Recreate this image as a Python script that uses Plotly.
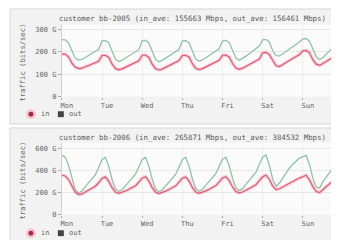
import plotly.graph_objects as go

hours = list(range(0, 170, 2))
day_ticks = [0, 24, 48, 72, 96, 120, 144]
day_labels = ["Mon", "Tue", "Wed", "Thu", "Fri", "Sat", "Sun"]

# panel 1 : customer bb-2005 (G bits/sec), 2-hour samples Mon 00:00 .. next Mon 00:00
in_2005 = [190, 190, 178, 150, 132, 125, 127, 133, 139, 145, 150, 158,
           184, 185, 176, 146, 126, 120, 124, 131, 138, 145, 152, 160,
           185, 186, 175, 145, 125, 119, 123, 131, 139, 145, 153, 161,
           184, 185, 177, 147, 127, 121, 125, 132, 139, 146, 153, 162,
           185, 186, 177, 148, 128, 122, 127, 135, 142, 150, 158, 168,
           196, 198, 188, 160, 138, 134, 142, 152, 162, 172, 180, 188,
           205, 207, 196, 165, 145, 140, 148, 158, 168, 176, 183, 187,
           190]
out_2005 = [255, 254, 240, 205, 172, 163, 167, 175, 184, 193, 202, 212,
            250, 251, 241, 200, 167, 157, 163, 173, 183, 192, 201, 210,
            251, 252, 240, 199, 166, 156, 162, 172, 182, 192, 202, 211,
            250, 251, 241, 201, 168, 158, 164, 174, 184, 194, 204, 214,
            250, 252, 242, 204, 172, 162, 170, 181, 192, 202, 212, 226,
            254, 256, 244, 205, 183, 182, 192, 202, 212, 222, 232, 244,
            258, 260, 248, 210, 178, 165, 175, 190, 205, 220, 235, 245,
            250]

# panel 2 : customer bb-2006
in_2006 = [359, 352, 320, 260, 205, 182, 188, 205, 222, 240, 258, 290,
           330, 344, 305, 245, 205, 193, 201, 215, 230, 246, 263, 295,
           332, 345, 306, 246, 204, 192, 200, 214, 229, 245, 262, 296,
           331, 344, 307, 247, 206, 194, 202, 216, 231, 247, 264, 298,
           333, 346, 310, 252, 210, 198, 206, 222, 238, 254, 272, 310,
           345, 359, 320, 260, 228, 235, 252, 268, 283, 298, 314, 335,
           345, 359, 315, 255, 210, 200, 228, 256, 282, 308, 330, 345,
           359]
out_2006 = [538, 525, 450, 330, 230, 197, 215, 255, 292, 328, 362, 430,
            500, 523, 440, 320, 235, 210, 228, 262, 298, 333, 368, 435,
            500, 522, 441, 322, 233, 208, 226, 260, 296, 331, 366, 433,
            502, 524, 443, 325, 237, 212, 230, 266, 302, 338, 373, 440,
            505, 523, 445, 330, 242, 218, 238, 276, 313, 348, 386, 460,
            525, 544, 450, 320, 258, 285, 335, 385, 425, 460, 488, 515,
            528, 540, 455, 330, 250, 242, 300, 345, 385, 425, 462, 490,
            508]

titles = ["customer bb-2005 (in_ave: 155663 Mbps, out_ave: 156461 Mbps)",
          "customer bb-2006 (in_ave: 265871 Mbps, out_ave: 384532 Mbps)"]
y_ticks = [[0, 100, 200, 300], [0, 200, 400, 600]]
y_ticktext = [["0", "100 G", "200 G", "300 G"], ["0", "200 G", "400 G", "600 G"]]
y_ranges = [[0, 322], [0, 656]]

W, H = 339, 240
MONO = "DejaVu Sans Mono"
IN_COLOR = "#de5870"
IN_GLOW = "rgba(244,170,185,0.5)"
OUT_COLOR = "#8fc2a6"
TXT = "#666"

fig = go.Figure()

panels = [(in_2005, out_2005), (in_2006, out_2006)]
# panel geometry in pixels (top of panel, plot top, plot bottom)
geo = [(0, 17, 90), (121, 137, 210)]
x0_px, x1_px = 53, 335

shapes = []
annotations = []
for i, ((vin, vout), (ptop, ytop, ybot)) in enumerate(zip(panels, geo)):
    xa = "x" if i == 0 else "x2"
    ya = "y" if i == 0 else "y2"
    fig.add_trace(go.Scatter(x=hours, y=vout, mode="lines", xaxis=xa, yaxis=ya,
                             line=dict(color=OUT_COLOR, width=1.3), showlegend=False,
                             hoverinfo="skip"))
    fig.add_trace(go.Scatter(x=hours, y=vin, mode="lines", xaxis=xa, yaxis=ya,
                             line=dict(color=IN_GLOW, width=3.5), showlegend=False,
                             hoverinfo="skip"))
    fig.add_trace(go.Scatter(x=hours, y=vin, mode="lines", xaxis=xa, yaxis=ya,
                             line=dict(color=IN_COLOR, width=1.2), showlegend=False,
                             hoverinfo="skip"))
    # panel frame
    shapes.append(dict(type="rect", xref="paper", yref="paper",
                       x0=1 / W, x1=(W - 1) / W,
                       y0=1 - (ptop + 118) / H, y1=1 - (ptop + 1) / H,
                       line=dict(color="#d6d6d6", width=1), fillcolor="#f2f2f2",
                       layer="below"))
    axx = dict(domain=[x0_px / W, x1_px / W], range=[0, 168], tickvals=day_ticks,
               ticktext=day_labels, ticks="outside", ticklen=2, tickcolor="#aaa",
               tickfont=dict(family=MONO, size=7, color=TXT), ticklabelshift=5,
               showgrid=True, gridcolor="#eeeeee", zeroline=False, showline=False,
               fixedrange=True)
    axy = dict(domain=[1 - ybot / H, 1 - ytop / H], range=y_ranges[i],
               tickvals=y_ticks[i], ticktext=y_ticktext[i], ticks="outside",
               ticklen=3, tickcolor="#aaa",
               tickfont=dict(family=MONO, size=7, color=TXT),
               showgrid=True, gridcolor="#e8e8e8", zeroline=False,
               showline=True, linecolor="#d2d2d2", fixedrange=True)
    if i == 0:
        axx["anchor"] = "y"
        axy["anchor"] = "x"
        fig.update_layout(xaxis=axx, yaxis=axy)
    else:
        axx["anchor"] = "y2"
        axy["anchor"] = "x2"
        fig.update_layout(xaxis2=axx, yaxis2=axy)
    # plot area background
    shapes.append(dict(type="rect", xref="paper", yref="paper",
                       x0=x0_px / W, x1=x1_px / W, y0=1 - ybot / H, y1=1 - ytop / H,
                       line=dict(width=0), fillcolor="#fbfbfb", layer="below"))
    # title
    annotations.append(dict(text=titles[i], xref="paper", yref="paper",
                            x=184 / W, y=1 - (ptop + 11) / H, showarrow=False,
                            xanchor="center", yanchor="middle",
                            font=dict(family=MONO, size=7.4, color="#5a5a5a")))
    # y axis title
    annotations.append(dict(text="traffic (bits/sec)", xref="paper", yref="paper",
                            x=14 / W, y=1 - ((ytop + ybot) / 2 + 2) / H,
                            showarrow=False, textangle=-90,
                            xanchor="center", yanchor="middle",
                            font=dict(family=MONO, size=7.2, color=TXT)))
    # legend
    ly = ptop + 108
    shapes.append(dict(type="circle", xref="paper", yref="paper",
                       x0=17 / W, x1=27 / W, y0=1 - (ly + 5) / H, y1=1 - (ly - 5) / H,
                       line=dict(width=0), fillcolor="#f6c8d2"))
    shapes.append(dict(type="circle", xref="paper", yref="paper",
                       x0=19.5 / W, x1=24.5 / W, y0=1 - (ly + 2.5) / H,
                       y1=1 - (ly - 2.5) / H,
                       line=dict(width=0), fillcolor="#a82a46"))
    annotations.append(dict(text="in", xref="paper", yref="paper", x=30 / W,
                            y=1 - ly / H, showarrow=False, xanchor="left",
                            yanchor="middle",
                            font=dict(family=MONO, size=7, color=TXT)))
    shapes.append(dict(type="rect", xref="paper", yref="paper",
                       x0=49 / W, x1=55 / W, y0=1 - (ly + 3) / H, y1=1 - (ly - 3) / H,
                       line=dict(width=0), fillcolor="#444444"))
    annotations.append(dict(text="out", xref="paper", yref="paper", x=58 / W,
                            y=1 - ly / H, showarrow=False, xanchor="left",
                            yanchor="middle",
                            font=dict(family=MONO, size=7, color=TXT)))

fig.update_layout(width=W, height=H, margin=dict(l=0, r=0, t=0, b=0),
                  paper_bgcolor="#ffffff", plot_bgcolor="rgba(0,0,0,0)",
                  shapes=shapes, annotations=annotations, showlegend=False)

fig.write_html("out.html", config={"displayModeBar": False})
